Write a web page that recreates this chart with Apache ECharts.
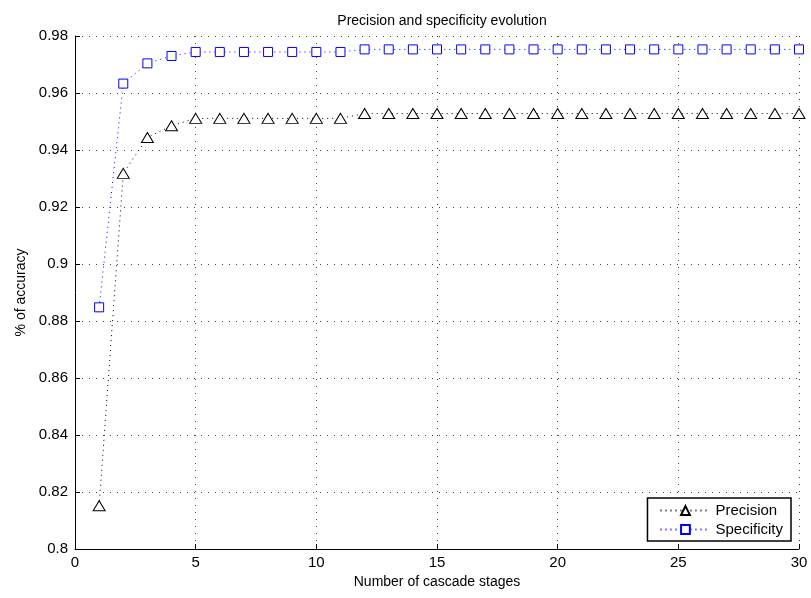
<!DOCTYPE html>
<html>
<head>
<meta charset="utf-8">
<script src="https://cdn.jsdelivr.net/npm/echarts@6/dist/echarts.min.js"></script>
<style>
  html, body { margin: 0; padding: 0; background: #fff; }
  #chart { width: 811px; height: 598px; }
</style>
</head>
<body>
<div id="chart"></div>
<script>
// cascade stages 1..30
const stages = [1, 2, 3, 4, 5, 6, 7, 8, 9, 10, 11, 12, 13, 14, 15, 16, 17, 18, 19, 20,
    21, 22, 23, 24, 25, 26, 27, 28, 29, 30];
const precision = [0.8152, 0.9318, 0.9444, 0.9485, 0.9511, 0.9511, 0.9511, 0.9511, 0.9511, 0.9511,
    0.9511, 0.9528, 0.9528, 0.9528, 0.9528, 0.9528, 0.9528, 0.9528, 0.9528, 0.9528,
    0.9528, 0.9528, 0.9528, 0.9528, 0.9528, 0.9528, 0.9528, 0.9528, 0.9528, 0.9528];
const specificity = [0.8848, 0.9633, 0.9704, 0.9730, 0.9744, 0.9744, 0.9744, 0.9744, 0.9744, 0.9744,
    0.9744, 0.9753, 0.9753, 0.9753, 0.9753, 0.9753, 0.9753, 0.9753, 0.9753, 0.9753,
    0.9753, 0.9753, 0.9753, 0.9753, 0.9753, 0.9753, 0.9753, 0.9753, 0.9753, 0.9753];
const xTicks = [0, 5, 10, 15, 20, 25, 30];
const yTicks = [0.8, 0.82, 0.84, 0.86, 0.88, 0.9, 0.92, 0.94, 0.96, 0.98];

const font = 'Liberation Sans, Helvetica, Arial, sans-serif';
const pairs = arr => stages.map((s, i) => [s, arr[i]]);
const gridDots = { color: '#444', width: 1, type: [1, 6] };

const chart = echarts.init(document.getElementById('chart'));
chart.setOption({
    animation: false,
    backgroundColor: '#fff',
    title: {
        text: 'Precision and specificity evolution',
        left: 437, top: 9, textAlign: 'center',
        textStyle: { fontFamily: font, fontSize: 14, fontWeight: 'normal', color: '#000' }
    },
    grid: { left: 75, right: 12, top: 36, bottom: 49 },
    xAxis: {
        type: 'value',
        min: xTicks[0], max: xTicks[xTicks.length - 1], interval: 5,
        name: 'Number of cascade stages',
        nameLocation: 'middle', nameGap: 26,
        nameTextStyle: { fontFamily: font, fontSize: 14, color: '#000' },
        axisLine: { lineStyle: { color: '#000', width: 1 } },
        axisTick: { inside: true, length: 5, lineStyle: { color: '#000' } },
        axisLabel: { fontFamily: font, fontSize: 15, color: '#000', margin: 6 },
        splitLine: { show: true, lineStyle: gridDots }
    },
    yAxis: {
        type: 'value',
        min: yTicks[0], max: yTicks[yTicks.length - 1], interval: 0.02,
        name: '% of accuracy',
        nameLocation: 'middle', nameGap: 45,
        nameTextStyle: { fontFamily: font, fontSize: 14, color: '#000' },
        axisLine: { show: true, lineStyle: { color: '#000', width: 1 } },
        axisTick: { show: true, inside: true, length: 5, lineStyle: { color: '#000' } },
        axisLabel: {
            fontFamily: font, fontSize: 15, color: '#000', margin: 7,
            formatter: v => String(+v.toFixed(2))
        },
        splitLine: { show: true, lineStyle: gridDots }
    },
    legend: {
        orient: 'vertical',
        right: 20, bottom: 57,
        backgroundColor: '#fff',
        borderColor: '#000', borderWidth: 1.5, borderRadius: 0,
        padding: [5, 8, 4, 12],
        itemGap: 4, itemWidth: 50, itemHeight: 11,
        textStyle: { fontFamily: font, fontSize: 15, color: '#000' },
        data: ['Precision', 'Specificity']
    },
    series: [
        {
            name: 'Precision',
            type: 'line',
            data: pairs(precision),
            symbol: 'triangle', symbolSize: [12, 10],
            lineStyle: { color: '#000', width: 1, type: [1, 4] },
            itemStyle: { color: '#fff', borderColor: '#000', borderWidth: 1 }
        },
        {
            name: 'Specificity',
            type: 'line',
            data: pairs(specificity),
            symbol: 'rect', symbolSize: 9,
            lineStyle: { color: '#0000ff', width: 1, type: [1, 4] },
            itemStyle: { color: '#fff', borderColor: '#0000ff', borderWidth: 1 }
        }
    ]
});
</script>
</body>
</html>
